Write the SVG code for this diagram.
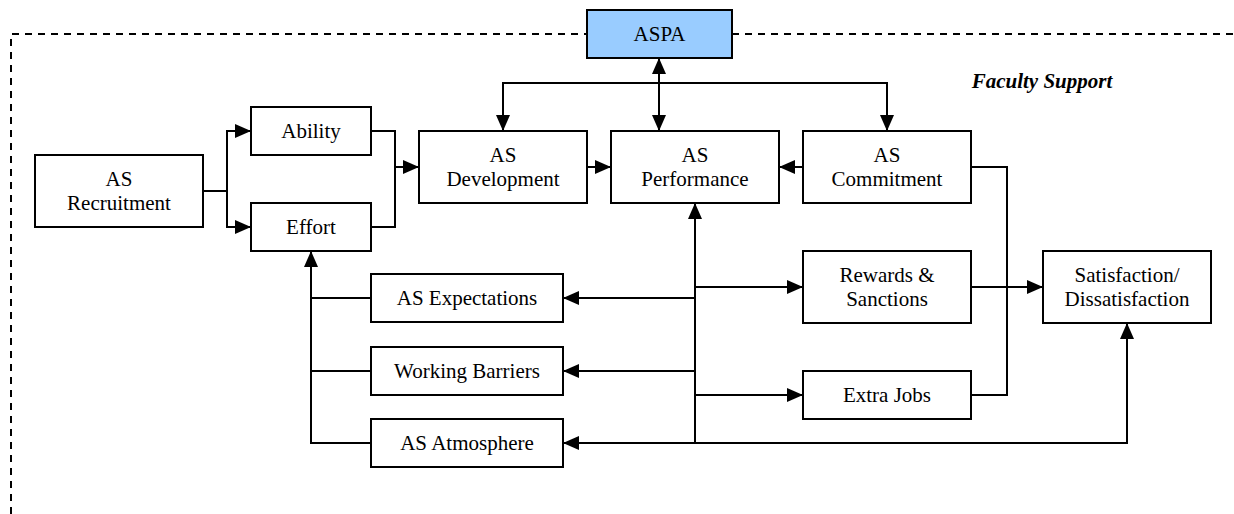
<svg xmlns="http://www.w3.org/2000/svg" width="1234" height="514" viewBox="0 0 1234 514">
<defs>
<style>
.box{fill:#fff;stroke:#000;stroke-width:2}
.aspa{fill:#99CCFF;stroke:#000;stroke-width:2}
.t{font-family:"Liberation Serif","Times New Roman",serif;font-size:21px;fill:#000;text-anchor:middle}
.fs{font-family:"Liberation Serif","Times New Roman",serif;font-size:21px;font-weight:bold;font-style:italic;fill:#000;text-anchor:middle}
.c{fill:none;stroke:#000;stroke-width:2}
.dash{fill:none;stroke:#000;stroke-width:2;stroke-dasharray:7 6}
</style>
<marker id="ah" markerUnits="userSpaceOnUse" markerWidth="16" markerHeight="14" viewBox="0 0 16 14" refX="16" refY="7" orient="auto-start-reverse">
<path d="M0,0 L16,7 L0,14 z" fill="#000"/>
</marker>
</defs>
<rect width="1234" height="514" fill="#fff"/>
<g id="border">
<path class="dash" d="M11,514 V34 H587"/>
<path class="dash" d="M732,34 H1234"/>
</g>
<g id="connectors">
<path class="c" d="M203,191 H227"/>
<path class="c" d="M227,191 V131 H251" marker-end="url(#ah)"/>
<path class="c" d="M227,191 V227 H251" marker-end="url(#ah)"/>
<path class="c" d="M371,131 H395 V167 H419" marker-end="url(#ah)"/>
<path class="c" d="M371,227 H395 V167"/>
<path class="c" d="M587,167 H611" marker-end="url(#ah)"/>
<path class="c" d="M803,167 H779" marker-end="url(#ah)"/>
<path class="c" d="M503,131 V83 H887 V131" marker-start="url(#ah)" marker-end="url(#ah)"/>
<path class="c" d="M659,58 V131" marker-start="url(#ah)" marker-end="url(#ah)"/>
<path class="c" d="M695,443 V203" marker-end="url(#ah)"/>
<path class="c" d="M695,298 H563" marker-end="url(#ah)"/>
<path class="c" d="M695,371 H563" marker-end="url(#ah)"/>
<path class="c" d="M563,443 H1127 V323" marker-start="url(#ah)" marker-end="url(#ah)"/>
<path class="c" d="M695,287 H803" marker-end="url(#ah)"/>
<path class="c" d="M695,395 H803" marker-end="url(#ah)"/>
<path class="c" d="M971,287 H1043" marker-end="url(#ah)"/>
<path class="c" d="M971,167 H1007 V395 H971"/>
<path class="c" d="M371,298 H311"/>
<path class="c" d="M371,371 H311"/>
<path class="c" d="M371,443 H311 V251" marker-end="url(#ah)"/>
</g>
<g id="aspa"><rect class="aspa" x="587" y="10" width="145" height="48"/><text class="t" x="659.5" y="41">ASPA</text></g>
<g id="recruitment"><rect class="box" x="35" y="155" width="168" height="72"/><text class="t" x="119" y="186">AS</text><text class="t" x="119" y="210">Recruitment</text></g>
<g id="ability"><rect class="box" x="251" y="107" width="120" height="48"/><text class="t" x="311" y="138">Ability</text></g>
<g id="effort"><rect class="box" x="251" y="203" width="120" height="48"/><text class="t" x="311" y="234">Effort</text></g>
<g id="development"><rect class="box" x="419" y="131" width="168" height="72"/><text class="t" x="503" y="162">AS</text><text class="t" x="503" y="186">Development</text></g>
<g id="performance"><rect class="box" x="611" y="131" width="168" height="72"/><text class="t" x="695" y="162">AS</text><text class="t" x="695" y="186">Performance</text></g>
<g id="commitment"><rect class="box" x="803" y="131" width="168" height="72"/><text class="t" x="887" y="162">AS</text><text class="t" x="887" y="186">Commitment</text></g>
<g id="faculty-support"><text class="fs" x="1042" y="88">Faculty Support</text></g>
<g id="expectations"><rect class="box" x="371" y="274" width="192" height="48"/><text class="t" x="467" y="305">AS Expectations</text></g>
<g id="barriers"><rect class="box" x="371" y="347" width="192" height="48"/><text class="t" x="467" y="378">Working Barriers</text></g>
<g id="atmosphere"><rect class="box" x="371" y="419" width="192" height="48"/><text class="t" x="467" y="450">AS Atmosphere</text></g>
<g id="rewards"><rect class="box" x="803" y="251" width="168" height="72"/><text class="t" x="887" y="282">Rewards &amp;</text><text class="t" x="887" y="306">Sanctions</text></g>
<g id="extra-jobs"><rect class="box" x="803" y="371" width="168" height="48"/><text class="t" x="887" y="402">Extra Jobs</text></g>
<g id="satisfaction"><rect class="box" x="1043" y="251" width="168" height="72"/><text class="t" x="1127" y="282">Satisfaction/</text><text class="t" x="1127" y="306">Dissatisfaction</text></g>
</svg>
